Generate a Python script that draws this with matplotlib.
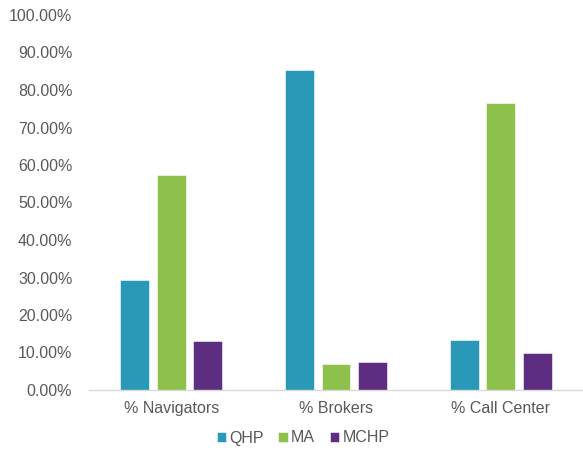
import matplotlib
matplotlib.use("Agg")
import matplotlib.pyplot as plt
import numpy as np
from matplotlib.ticker import FuncFormatter, MultipleLocator

categories = ["% Navigators", "% Brokers", "% Call Center"]
series_names = ["QHP", "MA", "MCHP"]
qhp = [29.3, 85.3, 13.3]
ma = [57.4, 6.9, 76.6]
mchp = [13.1, 7.5, 9.8]
colors = ["#2A99B8", "#8DC14B", "#5C2D80"]

plt.rcParams['font.family'] = ['Liberation Sans', 'DejaVu Sans']

fig = plt.figure(figsize=(5.83, 4.5), dpi=100)
ax = fig.add_axes([89/583, 1-390/450, (583-89)/583, (390-15)/450])

x = np.arange(len(categories))
width = 0.175
step = 0.222
for i, (vals, name, c) in enumerate(zip([qhp, ma, mchp], series_names, colors)):
    ax.bar(x + (i-1)*step, vals, width, color=c, label=name,
           edgecolor="white", linewidth=0.4)

ax.set_xlim(-0.5, 2.5)
ax.set_ylim(0, 100)
ax.yaxis.set_major_locator(MultipleLocator(10))
ax.yaxis.set_major_formatter(FuncFormatter(lambda v, p: f"{v:.2f}%"))
ax.set_xticks(x)
ax.set_xticklabels(categories)
for s in ["top", "right", "left"]:
    ax.spines[s].set_visible(False)
ax.spines["bottom"].set_color("#D9D9D9")
ax.spines["bottom"].set_linewidth(1)
ax.tick_params(axis="both", length=0, labelsize=11.5, colors="#595959")
ax.tick_params(axis="y", pad=12)
ax.tick_params(axis="x", pad=8)

leg = fig.legend(loc="center", bbox_to_anchor=(303/583, 1-438/450), ncol=3,
                 frameon=False, fontsize=11.5, handlelength=0.6, handleheight=0.6,
                 handletextpad=0.2, columnspacing=0.9)
for t in leg.get_texts():
    t.set_color("#595959")

fig.savefig("out.png", dpi=100)
